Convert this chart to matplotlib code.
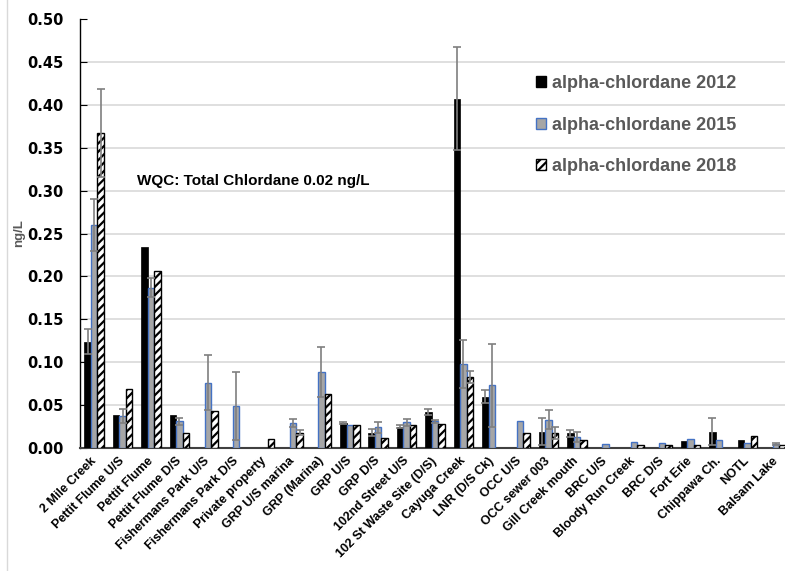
import numpy as np
import matplotlib
matplotlib.use("Agg")
import matplotlib.pyplot as plt
from matplotlib.patches import Patch
from matplotlib.lines import Line2D

nan = np.nan

sites = ["2 Mile Creek", "Pettit Flume U/S", "Pettit Flume", "Pettit Flume D/S",
         "Fishermans Park U/S", "Fishermans Park D/S", "Private property",
         "GRP U/S marina", "GRP (Marina)", "GRP U/S", "GRP D/S", "102nd Street U/S",
         "102 St Waste Site (D/S)", "Cayuga Creek", "LNR (D/S Ck)", "OCC U/S",
         "OCC sewer 003", "Gill Creek mouth", "BRC U/S", "Bloody Run Creek", "BRC D/S",
         "Fort Erie", "Chippawa Ch.", "NOTL", "Balsam Lake"]

alpha_2012 = [0.124, 0.038, 0.234, 0.039, nan, nan, nan, nan, nan, 0.029, 0.018, 0.025,
              0.042, 0.407, 0.060, nan, 0.019, 0.017, nan, nan, nan, 0.008, 0.019, 0.009, nan]
alpha_2015 = [0.260, 0.037, 0.187, 0.031, 0.076, 0.049, nan, 0.029, 0.089, 0.027, 0.024, 0.030,
              0.031, 0.098, 0.073, 0.031, 0.033, 0.013, 0.005, 0.007, 0.006, 0.010, 0.009, 0.006, 0.005]
alpha_2018 = [0.367, 0.069, 0.206, 0.018, 0.043, nan, 0.011, 0.018, 0.063, 0.027, 0.012, 0.027,
              0.028, 0.083, nan, 0.018, 0.018, 0.009, nan, 0.004, 0.004, 0.004, nan, 0.014, 0.004]

err_2012 = [0.015, nan, nan, nan, nan, nan, nan, nan, nan, 0.001, 0.004, 0.0015,
            0.0035, 0.060, 0.008, nan, 0.0155, 0.004, nan, nan, nan, nan, 0.0155, nan, nan]
err_2015 = [0.030, 0.008, 0.011, 0.004, 0.032, 0.040, nan, 0.005, 0.029, nan, 0.006, 0.004,
            0.002, 0.028, 0.048, nan, 0.011, 0.006, nan, nan, nan, nan, nan, nan, 0.001]
err_2018 = [0.051, nan, nan, nan, nan, nan, nan, 0.0027, nan, nan, nan, nan,
            nan, 0.007, nan, nan, 0.007, nan, nan, nan, nan, nan, nan, nan, nan]

series_labels = ["alpha-chlordane 2012", "alpha-chlordane 2015", "alpha-chlordane 2018"]
y_ticks = [0.0, 0.05, 0.10, 0.15, 0.20, 0.25, 0.30, 0.35, 0.40, 0.45, 0.50]

plt.rcParams["hatch.linewidth"] = 1.6

fig = plt.figure(figsize=(7.85, 5.71), dpi=100)
ax = fig.add_axes([80 / 785, 123 / 571, 710 / 785, 429 / 571])

x = np.arange(len(sites))
w = 0.23
err_kw = dict(ecolor="#7f7f7f", elinewidth=1.2, capsize=3, capthick=1.2)

ax.bar(x - w, alpha_2012, w, color="black", edgecolor="black", linewidth=0.5,
       yerr=err_2012, error_kw=err_kw, zorder=3)
ax.bar(x, alpha_2015, w, color="#a6a6a6", edgecolor="#4472c4", linewidth=1.0,
       yerr=err_2015, error_kw=err_kw, zorder=3)
ax.bar(x + w, alpha_2018, w, color="white", edgecolor="black", hatch="////", linewidth=1.0,
       yerr=err_2018, error_kw=err_kw, zorder=3)

ax.set_xlim(-0.5, len(sites) - 0.5)
ax.set_ylim(0, 0.5)
ax.set_yticks(y_ticks)
ax.set_yticklabels([f"{v:.2f}" for v in y_ticks], fontsize=10.5, fontweight="bold",
                   family="DejaVu Sans")
ax.tick_params(axis="y", direction="in", length=5, pad=12, color="black")
ax.set_xticks(x)
ax.set_xticklabels(sites, rotation=45, ha="right", va="center", rotation_mode="anchor",
                   fontsize=9, fontweight="bold", family="Liberation Sans")
ax.tick_params(axis="x", length=0, pad=8)

ax.grid(axis="y", color="#d9d9d9", linewidth=1.2, zorder=0)
ax.yaxis.get_gridlines()[-1].set_visible(False)
ax.set_axisbelow(True)
for s in ["top", "right"]:
    ax.spines[s].set_visible(False)
ax.spines["left"].set_color("black")
ax.spines["left"].set_linewidth(1.0)
ax.spines["bottom"].set_color("#404040")
ax.spines["bottom"].set_linewidth(1.5)

ax.set_ylabel("ng/L", fontsize=9.5, fontweight="bold", color="#595959",
              family="Liberation Sans", labelpad=1)

ax.text(137 / 785, 1 - 181 / 571, "WQC: Total Chlordane 0.02 ng/L", transform=fig.transFigure,
        fontsize=11, fontweight="bold", family="Liberation Sans", va="center", ha="left")

handles = [Patch(facecolor="black", edgecolor="black"),
           Patch(facecolor="#a6a6a6", edgecolor="#4472c4"),
           Patch(facecolor="white", edgecolor="black", hatch="////")]
leg = ax.legend(handles, series_labels, loc="upper left", bbox_to_anchor=(520 / 785, 1 - 59 / 571),
                bbox_transform=fig.transFigure, frameon=False, handlelength=0.55,
                handleheight=0.55, handletextpad=0.3, labelspacing=1.35,
                prop={"family": "Liberation Sans", "weight": "bold", "size": 13})
for t in leg.get_texts():
    t.set_color("#595959")

fig.add_artist(Line2D([7 / 785, 7 / 785], [0, 1], transform=fig.transFigure,
                      color="#d9d9d9", linewidth=1.0))

fig.savefig("out.png", dpi=100, facecolor="white")
